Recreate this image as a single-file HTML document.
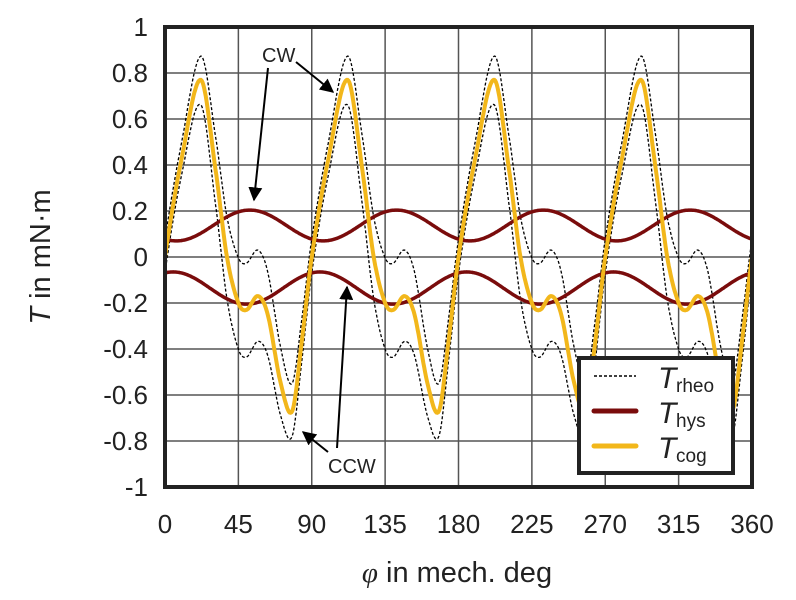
<!DOCTYPE html>
<html><head><meta charset="utf-8"><style>
html,body{margin:0;padding:0;background:#fff;width:796px;height:600px;overflow:hidden}
svg{display:block}
text{font-family:"Liberation Sans",Arial,sans-serif;fill:#222}
</style></head><body>
<svg id="s" width="796" height="600" viewBox="0 0 796 600" xmlns="http://www.w3.org/2000/svg">
<defs>
<marker id="ah" viewBox="0 0 10 10" refX="9" refY="5" markerWidth="7" markerHeight="7" orient="auto"><path d="M0,0 L10,5 L0,10 z" fill="#000"/></marker>
</defs>
<g id="grid" stroke="#555" stroke-width="1.5"></g>
<g id="curves" fill="none"></g>
<rect x="165" y="27" width="587" height="460" fill="none" stroke="#222" stroke-width="4"/>
<g id="labels" font-size="26"></g>
<text x="457" y="582" font-size="29" text-anchor="middle"><tspan font-style="italic" font-family="Liberation Serif">φ</tspan> in mech. deg</text>
<text transform="translate(50,257) rotate(-90)" font-size="29" text-anchor="middle"><tspan font-style="italic">T</tspan> in mN·m</text>
<text x="262" y="62" font-size="20">CW</text>
<line x1="268" y1="68" x2="254" y2="200" stroke="#000" stroke-width="2" marker-end="url(#ah)"/>
<line x1="296" y1="62" x2="333" y2="92" stroke="#000" stroke-width="2" marker-end="url(#ah)"/>
<text x="328" y="473" font-size="20">CCW</text>
<line x1="328" y1="452" x2="303" y2="432" stroke="#000" stroke-width="2" marker-end="url(#ah)"/>
<line x1="337" y1="448" x2="347" y2="287" stroke="#000" stroke-width="2" marker-end="url(#ah)"/>
<rect x="579" y="358" width="154" height="115" fill="#fff" stroke="#222" stroke-width="4"/>
<line x1="594" y1="376" x2="636" y2="376" stroke="#000" stroke-width="1.5" stroke-dasharray="3,2"/>
<line x1="594" y1="411" x2="636" y2="411" stroke="#7a0c0c" stroke-width="5" stroke-linecap="round"/>
<line x1="594" y1="446" x2="636" y2="446" stroke="#f2b71b" stroke-width="5" stroke-linecap="round"/>
<text x="658" y="388" font-size="30" font-style="italic">T</text><text x="676" y="392" font-size="19">rheo</text>
<text x="658" y="423" font-size="30" font-style="italic">T</text><text x="676" y="427" font-size="19">hys</text>
<text x="658" y="458" font-size="30" font-style="italic">T</text><text x="676" y="462" font-size="19">cog</text>
</svg>
<script>
const X=d=>165+d*587/360, Y=v=>257-v*230;
const g=document.getElementById('grid'),L=document.getElementById('labels'),C=document.getElementById('curves');
const ns='http://www.w3.org/2000/svg';
function el(p,t,a,txt){const e=document.createElementNS(ns,t);for(const k in a)e.setAttribute(k,a[k]);if(txt!=null)e.textContent=txt;p.appendChild(e);return e;}
for(let k=0;k<=8;k++){const x=X(k*45);if(k>0&&k<8)el(g,'line',{x1:x,y1:27,x2:x,y2:487});
 el(L,'text',{x:x,y:533,'text-anchor':'middle'},String(k*45));}
for(let k=0;k<=10;k++){const v=1-k*0.2,y=Y(v);if(k>0&&k<10)el(g,'line',{x1:165,y1:y,x2:752,y2:y});
 let s=Math.abs(v)<1e-9?'0':(Math.abs(Math.abs(v)-1)<1e-9?(v>0?'1':'-1'):(v<0?'-':'')+Math.abs(v).toFixed(1));
 el(L,'text',{x:148,y:y+9,'text-anchor':'end'},s);}
const kp=[[0,0],[10,0.42],[22,0.77],[31,0.38],[38,0],[45,-0.2],[50,-0.23],[57,-0.17],[63,-0.25],[71,-0.55],[78,-0.67],[84,-0.36],[90,0]];
function cog(d){d=((d%90)+90)%90;let i=0;while(i<kp.length-2&&kp[i+1][0]<=d)i++;
 const p1=kp[i],p2=kp[i+1],p0=i>0?kp[i-1]:[kp[kp.length-2][0]-90,kp[kp.length-2][1]],p3=i+2<kp.length?kp[i+2]:[90+kp[1][0],kp[1][1]];
 const t=(d-p1[0])/(p2[0]-p1[0]);const m1=(p2[1]-p0[1])/(p2[0]-p0[0])*(p2[0]-p1[0]),m2=(p3[1]-p1[1])/(p3[0]-p1[0])*(p2[0]-p1[0]);
 const t2=t*t,t3=t2*t;return (2*t3-3*t2+1)*p1[1]+(t3-2*t2+t)*m1+(-2*t3+3*t2)*p2[1]+(t3-t2)*m2;}
const hu=d=>0.137+0.067*Math.cos(2*Math.PI*(d-52)/90);
const hl=d=>-(0.135+0.07*Math.cos(2*Math.PI*(d-50)/90));
function path(f,attrs){let s='';for(let d=0;d<=360;d+=0.5){s+=(d?'L':'M')+X(d).toFixed(1)+','+Y(Math.max(-1,Math.min(1,f(d)))).toFixed(1);}attrs.d=s;el(C,'path',attrs);}
path(d=>cog(d)+hu(d),{stroke:'#000','stroke-width':1.3,'stroke-dasharray':'3,2'});
path(d=>cog(d)+hl(d),{stroke:'#000','stroke-width':1.3,'stroke-dasharray':'3,2'});
path(hu,{stroke:'#7a0c0c','stroke-width':3.5});
path(hl,{stroke:'#7a0c0c','stroke-width':3.5});
path(cog,{stroke:'#f2b71b','stroke-width':4});
</script>
</body></html>
